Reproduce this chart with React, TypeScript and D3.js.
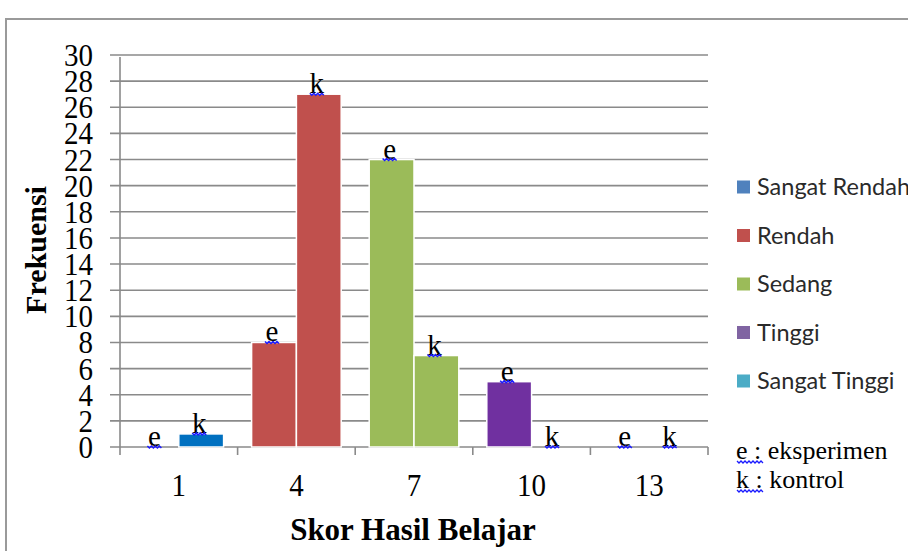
import React from "react";
import * as d3 from "d3";

const categories = ["1", "4", "7", "10", "13"];
const groups = ["e", "k"];
const eksperimen = [0, 8, 22, 5, 0];
const kontrol = [1, 27, 7, 0, 0];
const barColors = ["#0070C0", "#C0504D", "#9BBB59", "#7030A0", "#4BACC6"];
const legendLabels = ["Sangat Rendah", "Rendah", "Sedang", "Tinggi", "Sangat Tinggi"];
const legendColors = ["#4F81BD", "#C0504D", "#9BBB59", "#8064A2", "#4BACC6"];
const yTicks = d3.range(0, 31, 2);
const noteLabels = [
  { key: "e", text: "eksperimen" },
  { key: "k", text: "kontrol" },
];

const W = 908;
const H = 551;
const plot = { left: 120, right: 708, top: 55, bottom: 447 };
const serif = "'Liberation Serif', 'Times New Roman', serif";

function wavy(x0: number, x1: number, y: number) {
  const pts: [number, number][] = [];
  const step = 2;
  let i = 0;
  for (let x = x0; x <= x1 + 0.01; x += step, i++) {
    pts.push([x, y + (i % 2 === 0 ? 0 : 2)]);
  }
  return d3.line()(pts) || "";
}

export default function App() {
  const x = d3.scaleBand<string>().domain(categories).range([plot.left, plot.right]).padding(0);
  const inner = d3
    .scaleBand<string>()
    .domain(groups)
    .range([14, x.bandwidth() - 14])
    .padding(0);
  const y = d3.scaleLinear().domain([0, 30]).range([plot.bottom, plot.top]);

  const bars: { cat: string; g: string; v: number; color: string; i: number }[] = [];
  categories.forEach((c, i) => {
    bars.push({ cat: c, g: "e", v: eksperimen[i], color: barColors[i], i });
    bars.push({ cat: c, g: "k", v: kontrol[i], color: barColors[i], i });
  });

  const legendY = d3.scaleLinear().domain([0, 4]).range([187, 381]);
  const noteY = d3.scaleLinear().domain([0, 1]).range([459, 488]);

  return (
    <svg
      width={W}
      height={H}
      style={{ position: "absolute", left: 0, top: 0, background: "#fff" }}
    >
      <rect x={0} y={0} width={W} height={H} fill="#fff" />
      {/* outer frame */}
      <rect x={6} y={19} width={W + 20} height={H + 20} fill="none" stroke="#9a9a9a" strokeWidth={2} />

      {/* gridlines */}
      {yTicks.map((t) => (
        <line
          key={"g" + t}
          x1={plot.left - 10}
          x2={plot.right}
          y1={y(t)}
          y2={y(t)}
          stroke="#8a8a8a"
          strokeWidth={1.6}
        />
      ))}
      {/* y axis */}
      <line x1={plot.left} x2={plot.left} y1={plot.top + 2} y2={plot.bottom + 8} stroke="#8a8a8a" strokeWidth={1.6} />
      {/* x ticks */}
      {categories.map((c) => (
        <line
          key={"xt" + c}
          x1={(x(c) as number) + x.bandwidth()}
          x2={(x(c) as number) + x.bandwidth()}
          y1={plot.bottom}
          y2={plot.bottom + 8}
          stroke="#8a8a8a"
          strokeWidth={1.6}
        />
      ))}

      {/* y tick labels */}
      {yTicks.map((t) => (
        <text
          key={"yl" + t}
          transform={`translate(93,${y(t) + 11}) scale(1,1.1)`}
          textAnchor="end"
          fontFamily={serif}
          fontSize={29}
          fill="#000"
        >
          {t}
        </text>
      ))}

      {/* x tick labels */}
      {categories.map((c) => (
        <text
          key={"xl" + c}
          transform={`translate(${(x(c) as number) + x.bandwidth() / 2},496) scale(1,1.08)`}
          textAnchor="middle"
          fontFamily={serif}
          fontSize={29}
          fill="#000"
        >
          {c}
        </text>
      ))}

      {/* bars */}
      {bars.map((b) => {
        const bx = (x(b.cat) as number) + (inner(b.g) as number);
        return b.v > 0 ? (
          <rect
            key={"b" + b.cat + b.g}
            x={bx}
            y={y(b.v)}
            width={inner.bandwidth()}
            height={plot.bottom - y(b.v)}
            fill={b.color}
            stroke="#fff"
            strokeWidth={1.5}
          />
        ) : null;
      })}

      {/* bar labels */}
      {bars.map((b) => {
        const cx = (x(b.cat) as number) + (inner(b.g) as number) + inner.bandwidth() / 2 - 2;
        const by = y(b.v);
        return (
          <g key={"l" + b.cat + b.g}>
            <text
              x={cx}
              y={by - 1}
              textAnchor="middle"
              fontFamily={serif}
              fontSize={29}
              fill="#000"
            >
              {b.g}
            </text>
            <path d={wavy(cx - 7, cx + 7, by - 1)} fill="none" stroke="#1a1aff" strokeWidth={1.5} />
          </g>
        );
      })}

      {/* axis titles */}
      <text
        transform={`translate(46,250) rotate(-90)`}
        textAnchor="middle"
        fontFamily={serif}
        fontWeight="bold"
        fontSize={30}
        fill="#000"
      >
        Frekuensi
      </text>
      <text
        x={413}
        y={540}
        textAnchor="middle"
        fontFamily={serif}
        fontWeight="bold"
        fontSize={31}
        fill="#000"
      >
        Skor Hasil Belajar
      </text>

      {/* legend */}
      {legendLabels.map((l, i) => (
        <g key={"lg" + l}>
          <rect x={737} y={legendY(i) - 6.5} width={13} height={13} fill={legendColors[i]} />
          <text
            x={757}
            y={legendY(i) + 8}
            fontFamily="Lato, 'Open Sans', sans-serif"
            fontSize={23.5}
            fill="#2a2a2a"
          >
            {l}
          </text>
        </g>
      ))}

      {/* note */}
      {noteLabels.map((n, i) => (
        <g key={"n" + n.key}>
          <text x={736} y={noteY(i)} fontFamily={serif} fontSize={26} fill="#000">
            {`${n.key} : ${n.text}`}
          </text>
          <path d={wavy(737, 764, noteY(i) + 2)} fill="none" stroke="#1a1aff" strokeWidth={1.3} />
        </g>
      ))}
    </svg>
  );
}
